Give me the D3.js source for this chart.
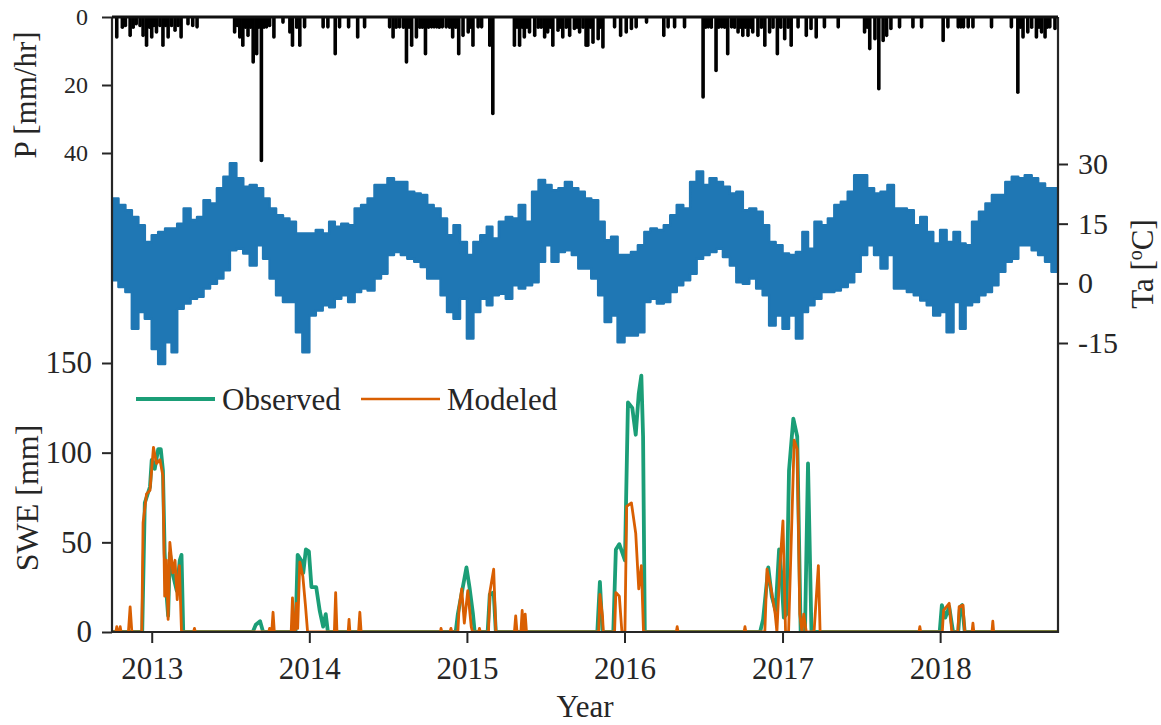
<!DOCTYPE html>
<html>
<head>
<meta charset="utf-8">
<script src="https://cdn.jsdelivr.net/npm/d3@7"></script>
<style>
  body { margin: 0; background: #fff; }
  text { font-family: "Liberation Serif", "Times New Roman", serif; fill: #262626; }
</style>
</head>
<body>
<svg id="chart" width="1161" height="725"></svg>
<script>
// ---- data -------------------------------------------------------------
// hourly precipitation events [date, mm/hr]
const precipEvents = [
  ["2012-10-12",5.9],["2012-10-25",3],["2012-11-01",2.5],["2012-11-12",5.4],["2012-11-19",3],["2012-11-26",2],
  ["2012-12-05",2.5],["2012-12-12",5.4],["2012-12-20",8.3],["2012-12-27",3],["2013-01-01",5.9],["2013-01-06",2.5],
  ["2013-01-12",4.4],["2013-01-20",2.5],["2013-01-27",8.3],["2013-02-02",2.5],["2013-02-08",5.9],["2013-02-16",2.5],
  ["2013-02-24",3.9],["2013-03-03",2.5],["2013-03-10",5.9],["2013-03-26",2],["2013-04-06",2.5],["2013-04-16",2.9],
  ["2013-07-12",4.4],["2013-07-18",2.5],["2013-07-24",5.9],["2013-07-31",8.3],["2013-08-06",3],["2013-08-12",5.4],
  ["2013-08-18",3],["2013-08-24",13.2],["2013-09-01",10.8],["2013-09-06",3],["2013-09-12",42.2],["2013-09-18",3],
  ["2013-09-24",2.9],["2013-10-01",2.5],["2013-10-11",5.9],["2013-11-01",1.5],["2013-11-17",4.4],["2013-11-23",8.3],
  ["2013-12-03",3],["2013-12-10",8.3],["2013-12-21",2.9],["2014-02-02",2.9],["2014-02-13",2.9],["2014-03-02",10.8],
  ["2014-03-12",2.9],["2014-04-02",2.9],["2014-04-23",5.9],["2014-05-09",2.9],["2014-07-06",2.9],["2014-07-14",5.9],
  ["2014-07-21",3],["2014-07-29",2.9],["2014-08-07",3],["2014-08-14",13.2],["2014-08-20",3],["2014-08-26",8.3],
  ["2014-09-06",5.9],["2014-09-14",3],["2014-09-20",3],["2014-09-27",10.8],["2014-10-04",3],["2014-10-11",2.9],
  ["2014-10-17",2.9],["2014-10-23",2.9],["2014-10-29",3],["2014-11-05",2.9],["2014-11-14",2.9],["2014-11-22",3],
  ["2014-11-29",5.9],["2014-12-06",3],["2014-12-13",10.8],["2014-12-23",5.4],["2015-01-04",4.4],["2015-01-10",3],
  ["2015-01-15",8.3],["2015-01-27",2.9],["2015-02-04",2.9],["2015-02-23",8.3],["2015-03-02",28.4],["2015-04-21",8.3],
  ["2015-04-27",3],["2015-05-03",8.3],["2015-05-09",3],["2015-05-14",5.9],["2015-05-20",3],["2015-05-26",4.4],
  ["2015-06-07",5.4],["2015-06-15",3],["2015-06-22",3],["2015-06-30",5.9],["2015-07-07",4.4],["2015-07-13",3],
  ["2015-07-19",8.3],["2015-07-31",3.9],["2015-08-05",3],["2015-08-11",5.9],["2015-08-19",3],["2015-08-27",5.4],
  ["2015-09-07",3.4],["2015-09-13",3],["2015-09-19",4.4],["2015-09-27",3],["2015-10-04",8.3],["2015-10-08",8.3],
  ["2015-10-14",3],["2015-10-20",7.4],["2015-11-01",6.4],["2015-11-06",3],["2015-11-12",8.8],["2015-12-09",2.9],
  ["2015-12-23",5.4],["2016-01-05",4.4],["2016-01-17",3.4],["2016-01-28",2.9],["2016-02-21",1.5],["2016-04-01",5.4],
  ["2016-04-11",2.9],["2016-04-26",2.9],["2016-05-19",2.9],["2016-07-01",23.5],["2016-07-07",3],["2016-07-13",2.9],
  ["2016-07-20",3],["2016-07-31",15.7],["2016-08-06",3],["2016-08-13",2.9],["2016-08-20",3],["2016-08-27",10.8],
  ["2016-09-05",2.9],["2016-09-12",3],["2016-09-20",4.4],["2016-09-25",3],["2016-10-01",5.4],["2016-10-07",3],
  ["2016-10-13",5.4],["2016-10-19",3],["2016-10-24",4.4],["2016-11-05",5.4],["2016-11-13",3],["2016-11-21",8.3],
  ["2016-12-02",4.4],["2016-12-10",3],["2016-12-20",10.8],["2016-12-28",3],["2017-01-06",6.4],["2017-01-14",3],
  ["2017-01-21",8.3],["2017-02-06",2.9],["2017-02-25",5.4],["2017-03-08",3.4],["2017-03-20",5.9],["2017-04-08",2.9],
  ["2017-05-10",2.9],["2017-07-10",4.4],["2017-07-16",3],["2017-07-22",9.3],["2017-08-03",6.4],["2017-08-12",21.1],
  ["2017-08-22",6.9],["2017-08-30",5.4],["2017-09-09",3.4],["2017-09-29",2.9],["2017-10-30",2.9],["2017-11-19",2.9],
  ["2018-01-08",6.9],["2018-01-19",2.9],["2018-02-12",2.9],["2018-02-18",2.9],["2018-02-24",2.9],["2018-03-07",2.9],
  ["2018-03-18",2.9],["2018-04-30",2.9],["2018-06-15",2.9],["2018-06-30",22.1],["2018-07-06",3],["2018-07-12",5.9],
  ["2018-07-23",4.4],["2018-08-01",3],["2018-08-12",5.9],["2018-08-18",3],["2018-08-24",4.4],["2018-09-01",5.9],
  ["2018-09-06",3],["2018-09-12",2.9],["2018-09-24",3.4]
];

// air temperature range per half month (1st-15th, 16th-end), Oct 2012 - Sep 2018, degC
const taMax = [
  21.3,19.7,18.4,16.7,14.6,10.4,12.1,12.9,13.8,13.8,15.0,18.8,15.9,16.7,20.9,20.1,23.9,26.8,30.2,26.4,24.3,24.7,23.9,21.3,
  18.8,17.1,16.3,15.5,12.5,12.5,12.5,13.4,12.5,15.5,14.2,15.0,14.6,18.8,19.7,21.3,24.7,24.7,26.4,25.5,25.5,23.0,22.6,22.2,
  19.7,18.8,16.3,12.1,14.6,10.4,7.1,10.4,12.1,14.2,11.3,15.5,16.7,16.3,19.7,15.5,23.0,26.0,24.7,23.4,23.9,25.5,23.9,23.0,
  21.3,20.9,15.5,10.8,11.7,7.1,7.1,7.9,9.6,12.9,13.8,13.4,14.6,17.1,19.7,18.8,25.5,28.1,24.7,26.4,25.5,24.3,22.6,23.0,
  18.4,18.8,18.0,14.6,10.4,9.6,7.5,7.1,7.9,12.9,8.7,15.5,14.6,16.3,19.7,20.5,23.0,27.2,27.2,23.9,22.6,23.0,24.7,18.8,
  18.8,18.4,14.6,16.7,12.9,10.0,13.4,10.4,12.9,10.0,9.6,15.5,18.0,20.1,22.2,22.2,25.5,26.8,26.4,27.2,26.4,25.1,23.9,23.9
];
const taMin = [
  0.8,-0.9,-2.2,-11.4,-7.2,-8.9,-16.5,-20.3,-14.8,-17.3,-6.4,-5.1,-3.9,-3.4,-1.3,-0.1,1.2,3.3,8.3,8.7,7.5,4.5,9.6,6.2,
  1.2,-3.0,-4.7,-4.7,-12.3,-17.3,-8.1,-6.8,-5.5,-6.0,-3.9,-3.0,-4.7,-2.2,-1.3,-1.8,1.2,2.4,7.1,7.9,7.1,6.2,5.4,4.1,
  1.2,1.2,-3.0,-7.2,-8.9,-3.9,-13.9,-7.2,-3.9,-5.5,-3.0,-2.6,-3.9,-0.5,-1.3,-0.5,0.3,5.4,9.6,5.4,7.9,8.3,7.1,3.7,
  3.7,1.2,-3.0,-9.7,-8.1,-14.8,-13.1,-13.1,-12.3,-4.7,-3.9,-5.1,-4.7,-2.2,-0.5,0.8,2.4,6.2,7.1,7.9,8.7,6.6,4.5,0.3,
  -0.1,1.2,-1.3,-3.0,-10.6,-8.1,-11.4,-8.1,-13.9,-7.2,-5.5,-3.9,-2.2,-2.2,-1.8,-0.9,0.3,2.9,7.1,9.6,7.1,3.7,7.1,-1.3,
  -1.3,-2.2,-3.0,-4.3,-5.5,-8.1,-7.2,-12.3,-4.7,-11.4,-5.5,-4.7,-3.0,-2.2,-0.5,2.9,5.4,6.2,9.6,9.6,8.3,7.1,5.4,2.9
];

// snow water equivalent [date, mm]
const sweObserved = [
  ["2012-10-01",0],["2012-12-10",0],["2012-12-16",72],["2012-12-28",81],["2013-01-01",96],["2013-01-08",91],
  ["2013-01-16",102],["2013-01-22",102],["2013-01-27",90],["2013-01-31",44],["2013-02-04",22],["2013-02-08",9],
  ["2013-02-12",44],["2013-02-20",31],["2013-02-28",23],["2013-03-07",40],["2013-03-11",43],["2013-03-15",0],
  ["2013-08-23",0],["2013-08-30",4],["2013-09-09",6],["2013-09-16",0],
  ["2013-11-30",0],["2013-12-05",43],["2013-12-13",40],["2013-12-18",33],["2013-12-24",46],["2013-12-31",45],
  ["2014-01-06",25],["2014-01-17",25],["2014-01-25",12],["2014-02-02",3],["2014-02-08",10],["2014-02-13",0],
  ["2014-12-06",0],["2014-12-11",10],["2014-12-31",36],["2015-01-07",25],["2015-01-15",10],["2015-01-19",0],
  ["2015-02-18",0],["2015-02-23",21],["2015-03-04",22],["2015-03-09",0],
  ["2015-10-30",0],["2015-11-05",28],["2015-11-11",0],
  ["2015-12-06",0],["2015-12-12",46],["2015-12-20",49],["2016-01-02",40],["2016-01-09",128],["2016-01-19",125],
  ["2016-01-27",110],["2016-02-03",133],["2016-02-09",143],["2016-02-13",109],["2016-02-17",0],
  ["2016-11-10",0],["2016-11-17",7],["2016-11-29",36],["2016-12-07",20],["2016-12-16",12],["2016-12-24",46],
  ["2016-12-29",33],["2017-01-04",8],["2017-01-10",10],["2017-01-16",90],["2017-01-26",119],["2017-02-04",109],
  ["2017-02-12",0],["2017-02-22",0],["2017-03-01",94],["2017-03-09",0],
  ["2017-12-31",0],["2018-01-05",15],["2018-01-13",8],["2018-01-22",14],["2018-01-31",0],["2018-02-12",0],
  ["2018-02-16",14],["2018-02-21",15],["2018-02-27",0],["2018-10-01",0]
];
const sweModeled = [
  ["2012-10-01",0],["2012-10-10",0],["2012-10-12",3],["2012-10-14",0],["2012-10-18",0],["2012-10-20",3],["2012-10-22",0],
  ["2012-11-08",0],["2012-11-12",14],["2012-11-16",0],
  ["2012-12-09",0],["2012-12-12",61],["2012-12-20",77],["2012-12-28",79],["2013-01-05",103],["2013-01-12",94],
  ["2013-01-20",96],["2013-01-27",87],["2013-01-31",20],["2013-02-04",40],["2013-02-08",7],["2013-02-12",50],
  ["2013-02-19",33],["2013-02-24",40],["2013-03-01",18],["2013-03-06",37],["2013-03-11",0],
  ["2013-04-08",0],["2013-04-10",2],["2013-04-12",0],
  ["2013-09-29",0],["2013-10-01",2],["2013-10-03",0],["2013-10-06",0],["2013-10-09",11],["2013-10-12",0],
  ["2013-11-20",0],["2013-11-23",19],["2013-11-26",0],["2013-11-29",0],["2013-12-02",16],["2013-12-05",2],
  ["2013-12-10",39],["2013-12-17",31],["2013-12-23",15],["2013-12-28",0],
  ["2014-02-28",0],["2014-03-03",22],["2014-03-06",0],["2014-04-01",0],["2014-04-03",7],["2014-04-05",0],
  ["2014-04-25",0],["2014-04-28",11],["2014-05-01",0],
  ["2014-11-01",0],["2014-11-02",2],["2014-11-04",0],["2014-11-23",0],["2014-11-25",2],["2014-11-27",0],
  ["2014-12-11",0],["2014-12-14",14],["2014-12-20",24],["2014-12-26",5],["2015-01-03",23],["2015-01-11",3],["2015-01-14",0],
  ["2015-01-28",0],["2015-01-30",2],["2015-02-01",0],
  ["2015-02-20",0],["2015-02-23",22],["2015-03-04",35],["2015-03-09",0],
  ["2015-04-21",0],["2015-04-24",9],["2015-04-27",0],["2015-05-06",0],["2015-05-09",12],["2015-05-12",0],
  ["2015-05-14",0],["2015-05-16",10],["2015-05-19",0],
  ["2015-11-02",0],["2015-11-05",21],["2015-11-11",9],["2015-11-13",0],
  ["2015-12-09",0],["2015-12-12",22],["2015-12-20",20],["2015-12-26",0],["2016-01-02",0],["2016-01-06",70],
  ["2016-01-17",72],["2016-01-27",55],["2016-02-03",24],["2016-02-09",37],["2016-02-14",0],
  ["2016-04-30",0],["2016-05-02",3],["2016-05-04",0],["2016-10-04",0],["2016-10-06",3],["2016-10-08",0],
  ["2016-11-21",0],["2016-11-26",35],["2016-12-07",22],["2016-12-15",10],["2016-12-19",0],["2016-12-26",37],
  ["2017-01-02",62],["2017-01-08",0],["2017-01-15",0],["2017-01-28",107],["2017-02-04",102],["2017-02-10",10],
  ["2017-02-15",0],["2017-02-19",10],["2017-02-25",0],["2017-03-15",0],["2017-03-25",37],["2017-03-29",0],
  ["2017-11-13",0],["2017-11-15",3],["2017-11-17",0],
  ["2018-01-06",0],["2018-01-09",12],["2018-01-22",16],["2018-01-28",0],["2018-02-11",0],["2018-02-14",14],
  ["2018-02-23",15],["2018-02-27",0],["2018-03-16",0],["2018-03-18",5],["2018-03-20",0],
  ["2018-05-01",0],["2018-05-03",6],["2018-05-05",0],["2018-10-01",0]
];

const yearTicks = [2013, 2014, 2015, 2016, 2017, 2018];
const precipTicks = [0, 20, 40];
const taTicks = [30, 15, 0, -15];
const sweTicks = [0, 50, 100, 150];
const seriesNames = ["Observed", "Modeled"];

// ---- layout -----------------------------------------------------------
const svg = d3.select("#chart");
const box = { left: 112, right: 1058, top: 17, bottom: 632 };
const parse = d3.utcParse("%Y-%m-%d");

const x = d3.scaleUtc()
  .domain([Date.UTC(2012, 9, 1), Date.UTC(2018, 9, 1)])
  .range([box.left, box.right]);
const yP = d3.scaleLinear().domain([0, 40]).range([box.top, 153]);
const yT = d3.scaleLinear().domain([-15, 30]).range([343, 164]);
const yS = d3.scaleLinear().domain([0, 150]).range([box.bottom, 363]);

const colors = { ta: "#1f77b4", obs: "#1b9e77", mod: "#d95f02", p: "#000" };

svg.append("defs").append("clipPath").attr("id", "plot")
  .append("rect").attr("x", box.left).attr("y", box.top)
  .attr("width", box.right - box.left).attr("height", box.bottom - box.top);

const plot = svg.append("g").attr("clip-path", "url(#plot)");

// temperature band: each half-month drawn as a flat step between its min and max
const periodStart = k => Date.UTC(2012, 9 + Math.floor(k / 2), k % 2 ? 16 : 1);
const domainEnd = x.domain()[1].getTime();
const taSteps = [];
taMax.forEach((hi, k) => {
  const t0 = periodStart(k);
  const t1 = k + 1 < taMax.length ? periodStart(k + 1) : domainEnd;
  taSteps.push({ t: t0, lo: taMin[k], hi }, { t: t1, lo: taMin[k], hi });
});
plot.append("path")
  .datum(taSteps)
  .attr("fill", colors.ta)
  .attr("stroke", colors.ta)
  .attr("stroke-width", 2.5)
  .attr("stroke-linejoin", "round")
  .attr("d", d3.area().x(d => x(d.t)).y0(d => yT(d.lo)).y1(d => yT(d.hi)));

// precipitation hanging from the top edge
plot.append("g").selectAll("line")
  .data(precipEvents)
  .join("line")
  .attr("x1", d => x(parse(d[0])))
  .attr("x2", d => x(parse(d[0])))
  .attr("y1", yP(0))
  .attr("y2", d => yP(d[1]))
  .attr("stroke", colors.p)
  .attr("stroke-width", 3.6)
  .attr("stroke-linecap", "round");

// SWE lines
const sweLine = d3.line().x(d => x(parse(d[0]))).y(d => yS(d[1]));
plot.append("path").datum(sweObserved)
  .attr("fill", "none").attr("stroke", colors.obs).attr("stroke-width", 3.8)
  .attr("stroke-linejoin", "round").attr("d", sweLine);
plot.append("path").datum(sweModeled)
  .attr("fill", "none").attr("stroke", colors.mod).attr("stroke-width", 2.8)
  .attr("stroke-linejoin", "round").attr("d", sweLine);

// ---- axes -------------------------------------------------------------
const axisColor = "#262626";
function styleAxis(g, size) {
  g.select(".domain").remove();
  g.selectAll(".tick line").attr("stroke", axisColor).attr("stroke-width", 2);
  g.selectAll(".tick text").attr("font-size", size).attr("fill", axisColor)
    .style("font-family", '"Liberation Serif", serif');
}

svg.append("g").attr("transform", `translate(${box.left},0)`)
  .call(d3.axisLeft(yP).tickValues(precipTicks).tickSize(10).tickPadding(14).tickFormat(d3.format("d")))
  .call(g => styleAxis(g, 24));

svg.append("g").attr("transform", `translate(${box.left},0)`)
  .call(d3.axisLeft(yS).tickValues(sweTicks).tickSize(10).tickPadding(10).tickFormat(d3.format("d")))
  .call(g => styleAxis(g, 31));

svg.append("g").attr("transform", `translate(${box.right},0)`)
  .call(d3.axisRight(yT).tickValues(taTicks).tickSize(10).tickPadding(10).tickFormat(d => String(d)))
  .call(g => styleAxis(g, 30));

svg.append("g").attr("transform", `translate(0,${box.bottom})`)
  .call(d3.axisBottom(x).tickValues(yearTicks.map(y => new Date(Date.UTC(y, 0, 1))))
    .tickSize(11).tickPadding(14).tickFormat(d3.utcFormat("%Y")))
  .call(g => styleAxis(g, 31));

// frame
svg.append("path")
  .attr("d", `M${box.left},${box.top}V${box.bottom}H${box.right}V${box.top}`)
  .attr("fill", "none").attr("stroke", axisColor).attr("stroke-width", 2.2);
svg.append("line")
  .attr("x1", box.left).attr("x2", box.right).attr("y1", box.top).attr("y2", box.top)
  .attr("stroke", "#111").attr("stroke-width", 3);

// axis titles
svg.append("text").attr("transform", "translate(36,95) rotate(-90)")
  .attr("text-anchor", "middle").attr("font-size", 31).text("P [mm/hr]");
svg.append("text").attr("transform", "translate(38,498) rotate(-90)")
  .attr("text-anchor", "middle").attr("font-size", 32).text("SWE [mm]");
const taTitle = svg.append("text").attr("transform", "translate(1153,264) rotate(-90)")
  .attr("text-anchor", "middle").attr("font-size", 31);
taTitle.append("tspan").text("Ta [");
taTitle.append("tspan").attr("font-size", 20).attr("dy", -11).text("o");
taTitle.append("tspan").attr("dy", 11).text("C]");
svg.append("text").attr("x", (box.left + box.right) / 2).attr("y", 717)
  .attr("text-anchor", "middle").attr("font-size", 31).text("Year");

// legend
const legend = svg.append("g");
const legendItems = [
  { name: seriesNames[0], color: colors.obs, width: 4, x0: 136 },
  { name: seriesNames[1], color: colors.mod, width: 2.6, x0: 361 }
];
legendItems.forEach(it => {
  legend.append("line").attr("x1", it.x0).attr("x2", it.x0 + 79).attr("y1", 399).attr("y2", 399)
    .attr("stroke", it.color).attr("stroke-width", it.width);
  legend.append("text").attr("x", it.x0 + 86).attr("y", 410).attr("font-size", 31).attr("fill", "#000").text(it.name);
});
</script>
</body>
</html>
